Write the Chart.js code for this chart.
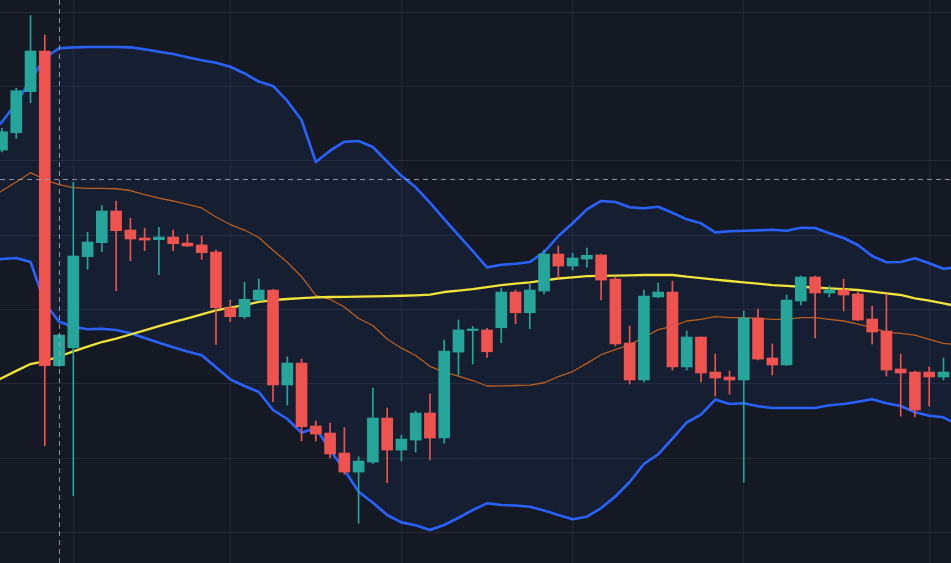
<!DOCTYPE html>
<html>
<head>
<meta charset="utf-8">
<script src="https://cdn.jsdelivr.net/npm/chart.js@4/dist/chart.umd.min.js"></script>
<style>
  html, body { margin: 0; padding: 0; background: #151924; overflow: hidden; }
  canvas { display: block; }
</style>
</head>
<body>
<canvas id="chart" width="951" height="563"></canvas>
<script>
// ---- Data (bar index 0..66 visible candles) ----
const opens = [
  151.45, 153.78, 159.30, 164.78, 122.42, 124.84, 137.09, 138.98, 143.24, 140.68,
  139.61, 139.38, 139.74, 138.93, 138.67, 137.72, 130.23, 129.02, 131.26, 132.61,
  119.82, 122.78, 114.31, 113.36, 110.67, 108.11, 109.46, 115.38, 111.07, 112.42,
  116.05, 112.69, 124.26, 127.16, 127.23, 127.53, 132.34, 129.55, 132.47, 137.45,
  135.84, 136.78, 137.32, 134.09, 125.48, 120.50, 131.67, 132.34, 122.25, 126.28,
  121.57, 120.90, 120.50, 128.84, 123.46, 122.52, 131.13, 134.36, 132.21, 132.61,
  132.07, 128.71, 127.09, 121.98, 121.57, 121.57, 120.90
];
const highs = [
  154.37, 159.76, 169.53, 166.93, 126.69, 147.10, 140.37, 143.96, 144.59, 142.26,
  140.91, 141.05, 140.68, 140.11, 139.88, 137.99, 131.26, 133.65, 134.09, 132.70,
  123.63, 123.32, 114.98, 114.71, 114.08, 110.17, 119.42, 116.73, 113.09, 116.32,
  118.61, 125.88, 128.57, 127.70, 127.45, 132.84, 132.61, 133.38, 137.99, 138.53,
  137.59, 138.26, 137.45, 134.36, 127.76, 132.61, 133.55, 133.82, 127.09, 126.28,
  124.00, 121.71, 129.78, 130.05, 125.34, 131.94, 134.49, 134.49, 133.15, 134.09,
  132.34, 130.46, 132.07, 124.00, 121.71, 122.25, 123.46
];
const lows = [
  151.18, 153.03, 157.82, 111.65, 122.31, 104.92, 135.39, 137.76, 132.52, 136.55,
  137.90, 134.67, 137.90, 138.46, 136.74, 125.30, 128.34, 128.77, 131.13, 117.58,
  117.13, 112.29, 112.29, 110.04, 107.80, 101.21, 109.23, 106.67, 109.59, 110.80,
  109.73, 111.98, 121.17, 122.65, 123.55, 125.52, 128.07, 127.40, 132.07, 134.22,
  135.30, 135.70, 131.26, 125.07, 119.96, 120.23, 131.60, 121.84, 121.84, 120.23,
  118.34, 118.61, 106.73, 123.19, 121.17, 122.45, 130.59, 126.15, 131.67, 129.78,
  128.50, 125.34, 121.03, 115.65, 115.52, 117.00, 120.50
];
const closes = [
  153.91, 159.43, 164.78, 122.42, 126.55, 137.19, 139.07, 143.24, 140.59, 139.47,
  139.34, 139.74, 138.84, 138.53, 137.63, 130.23, 129.02, 131.36, 132.61, 119.82,
  122.78, 114.21, 113.23, 110.54, 108.11, 109.59, 115.38, 111.07, 112.55, 116.05,
  112.69, 124.40, 127.23, 127.29, 124.30, 132.34, 129.55, 132.61, 137.45, 135.84,
  136.92, 137.28, 133.95, 125.34, 120.50, 131.80, 132.34, 122.25, 126.28, 121.44,
  120.77, 120.50, 128.84, 123.32, 122.52, 131.26, 134.36, 132.21, 132.61, 131.94,
  128.57, 126.96, 121.84, 121.44, 116.46, 120.90, 121.57
];

// Indicator series cover bar index -1 .. 67 (one bar beyond each edge)
const indicatorStart = -1;
const bbUpper = [
  153.47, 155.22, 157.78, 160.87, 163.83, 165.14, 165.27, 165.31, 165.31, 165.31, 165.27,
  165.00, 164.68, 164.37, 163.93, 163.52, 163.20, 162.66, 161.75, 160.67, 160.07,
  158.05, 155.49, 149.84, 151.36, 152.57, 152.66, 151.86, 149.90, 147.98, 146.43,
  144.36, 142.16, 140.01, 137.86, 135.66, 136.00, 136.15, 136.38, 137.72, 139.88,
  141.59, 143.47, 144.59, 144.45, 143.74, 143.61, 143.82, 143.01, 142.12, 141.59,
  140.37, 140.51, 140.59, 140.64, 140.72, 140.59, 140.99, 140.95, 140.24, 139.61,
  138.67, 137.19, 136.34, 136.38, 136.88, 136.20, 135.48, 135.70
];
const bbLower = [
  136.65, 136.78, 136.92, 136.38, 130.86, 128.34, 127.67, 127.32, 127.40, 127.23, 126.78,
  126.15, 125.52, 124.90, 124.33, 123.82, 122.21, 120.59, 119.69, 118.88, 116.46,
  115.25, 113.40, 114.04, 111.07, 108.38, 105.46, 103.98, 102.33, 101.34, 100.94,
  100.31, 100.98, 101.96, 103.00, 103.90, 103.67, 103.61, 103.44, 102.93, 102.33,
  101.75, 102.10, 103.27, 104.82, 106.77, 109.19, 110.50, 112.62, 114.78, 115.85,
  117.87, 117.27, 117.36, 116.96, 116.73, 116.73, 116.73, 116.73, 117.09, 117.27,
  117.58, 117.90, 117.36, 117.00, 116.15, 115.69, 115.48, 114.44
];
const bbBasis = [
  144.86, 145.97, 147.15, 148.40, 147.48, 146.78, 146.40, 146.30, 146.30, 146.24, 146.00,
  145.44, 144.99, 144.59, 144.14, 143.65, 142.43, 141.42, 140.68, 139.68, 137.95,
  136.34, 134.40, 131.90, 131.36, 130.32, 128.77, 127.83, 126.01, 124.78, 123.79,
  122.34, 121.57, 121.03, 120.43, 119.69, 119.72, 119.76, 119.82, 120.13, 120.94,
  121.64, 122.74, 123.90, 124.60, 125.27, 126.22, 127.27, 127.72, 128.44, 128.67,
  129.04, 128.88, 128.88, 128.80, 128.67, 128.67, 128.88, 128.88, 128.67, 128.44,
  128.03, 127.54, 126.92, 126.78, 126.55, 125.97, 125.44, 125.21
];
const maLong = [
  119.82, 120.77, 121.73, 122.65, 123.05, 123.66, 124.36, 124.98, 125.61, 126.08, 126.62,
  127.19, 127.76, 128.30, 128.80, 129.34, 129.88, 130.25, 130.59, 131.00, 131.26,
  131.40, 131.53, 131.63, 131.67, 131.69, 131.71, 131.76, 131.80, 131.84, 131.90,
  132.00, 132.34, 132.54, 132.74, 133.01, 133.28, 133.46, 133.65, 133.91, 134.16,
  134.32, 134.49, 134.52, 134.55, 134.59, 134.63, 134.63, 134.63, 134.40, 134.22,
  134.00, 133.82, 133.65, 133.48, 133.28, 133.17, 133.05, 132.95, 132.84, 132.72,
  132.61, 132.38, 132.17, 131.94, 131.49, 131.17, 130.82, 130.39
];

// Grid / tick positions
const priceTicks = [100, 110, 120, 130, 140, 150, 160, 170];
const timeTicks = [5, 16, 28, 40, 52, 65];   // period starts (bar index)
const crosshair = { bar: 4, price: 147.51 };
const viewRange = { xMin: -0.14, xMax: 66.527, yMin: 95.87, yMax: 171.64 };

// ---- Build chart ----
const UP = '#26a69a', DOWN = '#ef5350';
const labels = bbUpper.map((_, k) => k + indicatorStart);
const candleOf = (lbl) => (lbl >= 0 && lbl < opens.length) ? lbl : -1;
const bodies = labels.map(l => { const i = candleOf(l); return i < 0 ? null : [opens[i], closes[i]]; });
const wicks  = labels.map(l => { const i = candleOf(l); return i < 0 ? null : [lows[i], highs[i]]; });
const candleColor = (ctx) => {
  const i = candleOf(labels[ctx.dataIndex]);
  if (i < 0) return UP;
  return closes[i] >= opens[i] ? UP : DOWN;
};

const bgPlugin = {
  id: 'bg',
  beforeDraw(chart) {
    const { ctx, width, height } = chart;
    ctx.save();
    ctx.fillStyle = '#151924';
    ctx.fillRect(0, 0, width, height);
    ctx.restore();
  }
};
const crosshairPlugin = {
  id: 'crosshair',
  afterDatasetsDraw(chart) {
    const { ctx, chartArea: a, scales: { x, y } } = chart;
    const px = Math.round(x.getPixelForValue(crosshair.bar)) + 0.5;
    const py = Math.round(y.getPixelForValue(crosshair.price)) + 0.5;
    ctx.save();
    ctx.strokeStyle = 'rgba(160,166,178,0.85)';
    ctx.lineWidth = 1;
    ctx.setLineDash([5, 4]);
    ctx.beginPath();
    ctx.moveTo(a.left, py); ctx.lineTo(a.right, py);
    ctx.moveTo(px, a.top); ctx.lineTo(px, a.bottom);
    ctx.stroke();
    ctx.restore();
  }
};

const lineDefaults = { type: 'line', pointRadius: 0, pointHoverRadius: 0, tension: 0, borderJoinStyle: 'round', borderCapStyle: 'round' };

new Chart(document.getElementById('chart'), {
  data: {
    labels,
    datasets: [
      { type: 'bar', label: 'body', data: bodies, order: 0, grouped: false,
        backgroundColor: candleColor, borderWidth: 0, barThickness: 11, minBarLength: 1.5 },
      { type: 'bar', label: 'wick', data: wicks, order: 1, grouped: false,
        backgroundColor: candleColor, borderWidth: 0, barThickness: 1 },
      { ...lineDefaults, label: 'BB upper', data: bbUpper, order: 5, borderColor: '#2962ff', borderWidth: 2.6,
        fill: '+1', backgroundColor: 'rgba(41,98,255,0.065)' },
      { ...lineDefaults, label: 'BB lower', data: bbLower, order: 5, borderColor: '#2962ff', borderWidth: 2.6, fill: false },
      { ...lineDefaults, label: 'BB basis', data: bbBasis, order: 4, borderColor: '#b95e1d', borderWidth: 1.3, fill: false },
      { ...lineDefaults, label: 'MA', data: maLong, order: 3, borderColor: '#f2e33a', borderWidth: 2.3, fill: false }
    ]
  },
  options: {
    responsive: false,
    animation: false,
    events: [],
    layout: { padding: 0, autoPadding: false },
    plugins: {
      legend: { display: false },
      tooltip: { enabled: false },
      filler: { drawTime: 'beforeDatasetsDraw', propagate: false }
    },
    scales: {
      x: {
        type: 'linear', min: viewRange.xMin, max: viewRange.xMax, offset: false,
        afterBuildTicks: (s) => { s.ticks = timeTicks.map(v => ({ value: v })); },
        ticks: { display: false },
        grid: { color: '#232836', lineWidth: 1, drawTicks: false, offset: false },
        border: { display: false }
      },
      y: {
        type: 'linear', min: viewRange.yMin, max: viewRange.yMax,
        afterBuildTicks: (s) => { s.ticks = priceTicks.map(v => ({ value: v })); },
        ticks: { display: false },
        grid: { color: '#232836', lineWidth: 1, drawTicks: false },
        border: { display: false }
      }
    }
  },
  plugins: [bgPlugin, crosshairPlugin]
});
</script>
</body>
</html>
